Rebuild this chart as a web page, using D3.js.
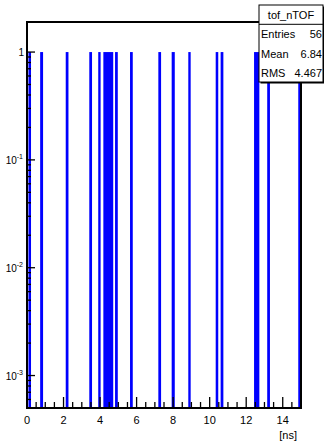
<!DOCTYPE html>
<html><head><meta charset="utf-8">
<script src="https://cdn.jsdelivr.net/npm/d3@7"></script>
<style>
html,body{margin:0;padding:0;background:#fff;}
svg{display:block;font-family:"Liberation Sans",Arial,sans-serif;}
</style></head>
<body>
<svg id="c" width="324" height="441"></svg>
<script>
// Filled bins of the histogram (ns): low and high edges, and content
const binLow  = [0.08, 0.72, 2.12, 3.41, 3.90, 4.18, 4.82, 5.64, 7.19, 7.92, 8.83, 10.33, 10.60, 12.43, 13.15, 14.85];
const binHigh = [0.22, 0.88, 2.27, 3.56, 4.03, 4.72, 4.97, 5.79, 7.34, 8.09, 8.96, 10.47, 10.75, 12.72, 13.30, 15.00];
const binCounts = [1, 1, 1, 1, 1, 1, 1, 1, 1, 1, 1, 1, 1, 1, 1, 1];
const xTickValues = [0, 2, 4, 6, 8, 10, 12, 14];
const yDecades = [1, 0.1, 0.01, 0.001];
const yDecadeLabels = [["1", ""], ["10", "-1"], ["10", "-2"], ["10", "-3"]];
const statsTitle = "tof_nTOF";
const statsNames = ["Entries", "Mean", "RMS"];
const statsValues = ["56", "6.84", "4.467"];
const xUnit = "[ns]";

const L = 27, R = 301, T = 22, B = 408;
const svg = d3.select("#c");
const x = d3.scaleLinear().domain([0, 15]).range([L, R]);
const y = d3.scaleLog().domain([5.0e-4, 1.9]).range([B, T]);

// bars
svg.append("g").selectAll("rect").data(binLow.map((lo, i) => ({lo, hi: binHigh[i], c: binCounts[i]})))
  .join("rect")
  .attr("x", d => x(d.lo))
  .attr("width", d => x(d.hi) - x(d.lo))
  .attr("y", d => y(d.c))
  .attr("height", d => B - y(d.c))
  .attr("fill", "#0000ff");

// x ticks (inside, upward)
const xMinor = d3.range(0, 15.001, 0.5).filter(v => !xTickValues.includes(v));
const gx = svg.append("g").attr("stroke", "#000").attr("stroke-width", 1.3);
gx.selectAll("line.maj").data(xTickValues).join("line")
  .attr("x1", d => x(d)).attr("x2", d => x(d)).attr("y1", B).attr("y2", B - 11);
gx.selectAll("line.min").data(xMinor).join("line")
  .attr("x1", d => x(d)).attr("x2", d => x(d)).attr("y1", B).attr("y2", B - 6);
svg.append("g").selectAll("text").data(xTickValues).join("text")
  .attr("x", d => x(d)).attr("y", 424).attr("text-anchor", "middle")
  .attr("font-size", 11).attr("fill", "#000").text(d => d);
svg.append("text").attr("x", 297).attr("y", 439).attr("text-anchor", "end")
  .attr("font-size", 11).text(xUnit);

// y ticks (log)
const yMinor = [];
[1e-4, 1e-3, 1e-2, 1e-1, 1].forEach(dec => { for (let k = 2; k <= 9; k++) { const v = dec * k; if (v >= 5e-4 && v <= 1.9) yMinor.push(v); } });
const gy = svg.append("g").attr("stroke", "#000").attr("stroke-width", 1.3);
gy.selectAll("line.maj").data(yDecades).join("line")
  .attr("x1", L).attr("x2", L + 8).attr("y1", d => y(d)).attr("y2", d => y(d));
gy.selectAll("line.min").data(yMinor).join("line")
  .attr("x1", L).attr("x2", L + 4).attr("y1", d => y(d)).attr("y2", d => y(d));
const yl = svg.append("g").selectAll("text").data(yDecades).join("text")
  .attr("x", (d, i) => i === 0 ? 24 : 23).attr("y", d => y(d) + 4)
  .attr("text-anchor", "end").attr("font-size", 10).attr("fill", "#000");
yl.each(function (d, i) {
  const t = d3.select(this);
  t.append("tspan").text(yDecadeLabels[i][0]);
  if (yDecadeLabels[i][1]) {
    t.append("tspan").attr("font-size", 7).attr("dy", -5).text(yDecadeLabels[i][1]);
  }
});

// frame
svg.append("rect").attr("x", L).attr("y", T).attr("width", R - L).attr("height", B - T)
  .attr("fill", "none").attr("stroke", "#000").attr("stroke-width", 2);

// stats box
const sx = 259, sy = 5, sw = 64, sh = 77, rowH = 19.3;
const sb = svg.append("g");
sb.append("rect").attr("x", sx + 1.5).attr("y", sy + 1.5).attr("width", sw).attr("height", sh).attr("fill", "#000");
sb.append("rect").attr("x", sx).attr("y", sy).attr("width", sw).attr("height", sh)
  .attr("fill", "#fff").attr("stroke", "#000").attr("stroke-width", 1);
sb.append("line").attr("x1", sx).attr("x2", sx + sw).attr("y1", sy + rowH).attr("y2", sy + rowH)
  .attr("stroke", "#000").attr("stroke-width", 1);
sb.append("text").attr("x", sx + sw / 2).attr("y", sy + 14).attr("text-anchor", "middle")
  .attr("font-size", 11).text(statsTitle);
statsNames.forEach((n, i) => {
  const yy = sy + rowH + 14 + i * rowH;
  sb.append("text").attr("x", sx + 2).attr("y", yy).attr("font-size", 11).text(n);
  sb.append("text").attr("x", sx + sw - 1).attr("y", yy).attr("text-anchor", "end").attr("font-size", 11).text(statsValues[i]);
});
</script>
</body></html>
